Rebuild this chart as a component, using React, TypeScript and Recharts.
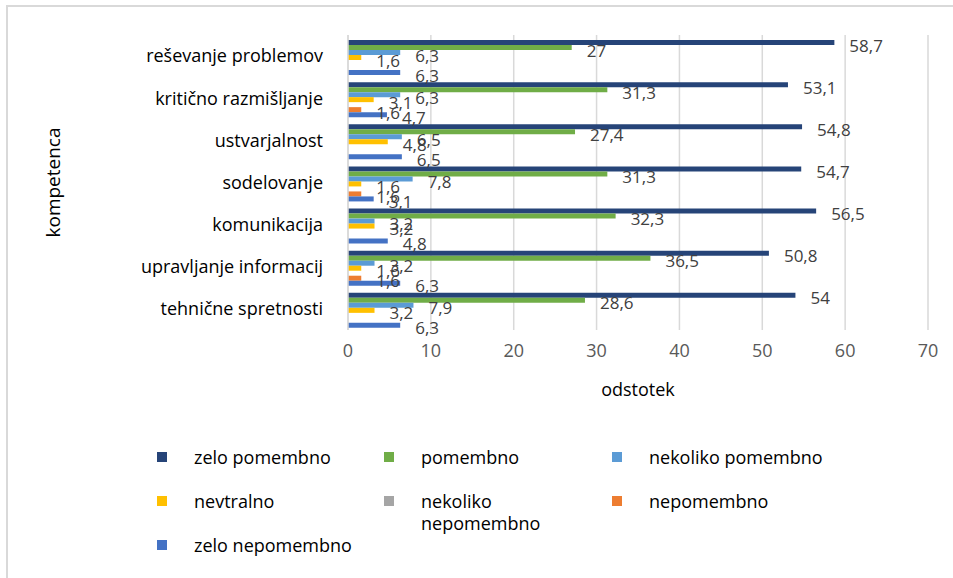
import { Bar, BarChart, CartesianGrid, LabelList, Legend, XAxis, YAxis } from 'recharts';

const categories = [
  'reševanje problemov',
  'kritično razmišljanje',
  'ustvarjalnost',
  'sodelovanje',
  'komunikacija',
  'upravljanje informacij',
  'tehnične spretnosti',
];

const seriesNames = [
  'zelo pomembno',
  'pomembno',
  'nekoliko pomembno',
  'nevtralno',
  'nekoliko nepomembno',
  'nepomembno',
  'zelo nepomembno',
];

const zeloPomembno = [58.7, 53.1, 54.8, 54.7, 56.5, 50.8, 54];
const pomembno = [27, 31.3, 27.4, 31.3, 32.3, 36.5, 28.6];
const nekolikoPomembno = [6.3, 6.3, 6.5, 7.8, 3.2, 3.2, 7.9];
const nevtralno = [1.6, 3.1, 4.8, 1.6, 3.2, 1.6, 3.2];
const nekolikoNepomembno = [null, null, null, null, null, null, null];
const nepomembno = [null, 1.6, null, 1.6, null, 1.6, null];
const zeloNepomembno = [6.3, 4.7, 6.5, 3.1, 4.8, 6.3, 6.3];

const xTicks = [0, 10, 20, 30, 40, 50, 60, 70];

const colors = ['#264478', '#70AD47', '#5B9BD5', '#FFC000', '#A5A5A5', '#ED7D31', '#4472C4'];
const FONT = '"Open Sans", sans-serif';

const seriesValues = [zeloPomembno, pomembno, nekolikoPomembno, nevtralno, nekolikoNepomembno, nepomembno, zeloNepomembno];
const keys = seriesNames.map((_, i) => `s${i}`);

const data = categories.map((name, ci) => {
  const row: Record<string, any> = { name };
  seriesValues.forEach((vals, si) => {
    row[keys[si]] = vals[ci];
  });
  return row;
});

const fmt = (v: any) => (v == null ? '' : String(v).replace('.', ','));

// legend keeps the series order (Recharts sorts it by name otherwise)
function LegendGrid({ payload }: any) {
  const items = [...(payload ?? [])].sort(
    (a: any, b: any) => seriesNames.indexOf(a.value) - seriesNames.indexOf(b.value),
  );
  return (
    <div
      style={{
        display: 'grid',
        gridTemplateColumns: '227px 228px 228px',
        gridAutoRows: '44px',
        paddingLeft: 157,
        fontFamily: FONT,
        fontSize: 18,
        lineHeight: '22px',
        color: '#000',
      }}
    >
      {items.map((p: any) => (
        <div key={p.value} style={{ display: 'flex', alignItems: 'flex-start' }}>
          <span style={{ width: 10, height: 10, background: p.color, marginTop: 6, flex: 'none' }} />
          <span style={{ marginLeft: 27, maxWidth: 182 }}>{p.value}</span>
        </div>
      ))}
    </div>
  );
}

export default function App() {
  return (
    <div style={{ position: 'absolute', left: 0, top: 0, width: 953, height: 578, background: '#fff' }}>
      <div
        style={{
          position: 'absolute',
          left: 6,
          top: 5,
          right: 0,
          bottom: 0,
          borderTop: '2px solid #d9d9d9',
          borderLeft: '2px solid #d9d9d9',
        }}
      />
      <BarChart
        width={953}
        height={578}
        data={data}
        layout="vertical"
        margin={{ top: 35, right: 25, bottom: 178, left: 0 }}
        barCategoryGap={5}
        barGap={0}
        style={{ position: 'absolute', left: 0, top: 0, fontFamily: FONT }}
      >
        <CartesianGrid stroke="#d9d9d9" strokeWidth={1.5} horizontal={false} />
        <XAxis
          type="number"
          domain={[0, 70]}
          ticks={xTicks}
          axisLine={false}
          tickLine={false}
          tickMargin={8}
          height={70}
          tick={{ fontSize: 18, fill: '#595959', fontFamily: FONT }}
          label={{ value: 'odstotek', position: 'insideBottom', offset: 4, fontSize: 18, fill: '#000', fontFamily: FONT }}
        />
        <YAxis
          type="category"
          dataKey="name"
          width={348}
          tickLine={false}
          tickSize={0}
          tickMargin={25}
          axisLine={{ stroke: '#d9d9d9', strokeWidth: 1.5 }}
          tick={{ fontSize: 18, fill: '#000', fontFamily: FONT }}
          label={({ viewBox }: any) => (
            <text
              x={53}
              y={viewBox.y + viewBox.height / 2}
              transform={`rotate(-90 53 ${viewBox.y + viewBox.height / 2})`}
              textAnchor="middle"
              dominantBaseline="central"
              fontSize={19}
              fontFamily={FONT}
              fill="#000"
            >
              kompetenca
            </text>
          )}
        />
        <Legend
          layout="vertical"
          align="center"
          verticalAlign="middle"
          content={<LegendGrid />}
          wrapperStyle={{ position: 'absolute', left: 0, top: 446, width: 953 }}
        />
        {keys.map((k, i) => (
          <Bar key={k} dataKey={k} name={seriesNames[i]} fill={colors[i]} isAnimationActive={false}>
            <LabelList
              dataKey={k}
              position="right"
              offset={15}
              dy={3}
              formatter={fmt}
              fontSize={17}
              fill="#404040"
              fontFamily={FONT}
            />
          </Bar>
        ))}
      </BarChart>
    </div>
  );
}
